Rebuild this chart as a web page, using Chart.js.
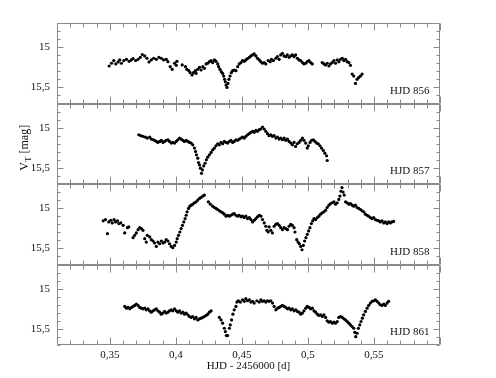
<!DOCTYPE html>
<html>
<head>
<meta charset="utf-8">
<script src="https://cdn.jsdelivr.net/npm/chart.js@4.4.1/dist/chart.umd.min.js"></script>
<style>
html, body { margin: 0; padding: 0; background: #fff; }
</style>
</head>
<body>
<canvas id="lc" width="496" height="378"></canvas>
<script>
// panel labels, top to bottom
const nights = ["HJD 856", "HJD 857", "HJD 858", "HJD 861"];

// HJD - 2456000 [d] and V_T [mag]
const t856 = [0.3495,0.3513,0.3530,0.3545,0.3563,0.3575,0.3588,0.3606,0.3626,0.3646,0.3663,0.3676,0.3696,0.3714,0.3731,0.3746,0.3764,0.3781,0.3797,0.3814,0.3832,0.3852,0.3872,0.3889,0.3907,0.3927,0.3940,0.3957,0.3972,0.3990,0.4003,0.4008,
  0.4048,0.4073,0.4083,0.4098,0.4108,0.4123,0.4133,0.4148,0.4153,0.4166,0.4179,0.4191,0.4204,0.4216,0.4229,0.4241,0.4254,0.4267,0.4279,0.4292,0.4304,0.4317,0.4324,0.4334,0.4344,0.4354,0.4362,0.4369,0.4375,0.4380,0.4387,0.4395,0.4402,0.4410,0.4420,0.4430,0.4442,0.4455,0.4468,0.4480,0.4493,0.4505,0.4518,0.4530,0.4543,0.4556,0.4568,0.4581,0.4593,0.4606,0.4618,0.4631,0.4643,0.4656,0.4668,0.4681,
  0.4699,0.4714,0.4724,0.4739,0.4757,0.4769,0.4782,0.4794,0.4807,0.4819,0.4832,0.4844,0.4857,0.4870,0.4882,0.4895,0.4907,0.4920,0.4932,0.4945,0.4958,0.4970,0.4983,0.4995,0.5008,0.5021,0.5033,
  0.5108,0.5121,0.5134,0.5146,0.5159,0.5171,0.5184,0.5197,0.5209,0.5222,0.5234,0.5247,0.5260,0.5272,0.5285,0.5297,0.5310,0.5322,0.5335,0.5347,0.5360,0.5372,0.5385,0.5398,0.5410];
const v856 = [15.234,15.200,15.167,15.209,15.184,15.159,15.200,15.167,15.151,15.176,15.159,15.142,15.167,15.151,15.126,15.092,15.109,15.138,15.184,15.159,15.138,15.151,15.126,15.138,15.159,15.151,15.180,15.242,15.276,15.200,15.226,15.176,
  15.221,15.242,15.276,15.292,15.317,15.346,15.317,15.292,15.326,15.276,15.250,15.284,15.242,15.263,15.209,15.200,15.180,15.167,15.192,15.159,15.176,15.209,15.242,15.276,15.305,15.326,15.359,15.400,15.430,15.470,15.500,15.450,15.400,15.359,15.317,15.292,15.284,15.292,15.242,15.209,15.192,15.167,15.176,15.159,15.142,15.126,15.109,15.096,15.084,15.109,15.138,15.159,15.180,15.200,15.192,15.209,
  15.167,15.180,15.151,15.167,15.138,15.117,15.151,15.096,15.076,15.109,15.117,15.096,15.126,15.109,15.096,15.117,15.096,15.138,15.159,15.167,15.192,15.209,15.200,15.180,15.167,15.192,15.209,
  15.192,15.209,15.221,15.200,15.234,15.209,15.192,15.167,15.200,15.159,15.180,15.151,15.138,15.167,15.151,15.180,15.192,15.226,15.334,15.359,15.450,15.400,15.376,15.359,15.334];

const t857 = [0.3719,0.3734,0.3751,0.3769,0.3784,0.3802,0.3814,0.3827,0.3839,0.3852,0.3864,0.3877,0.3890,0.3902,0.3915,0.3927,0.3940,0.3952,0.3965,0.3977,0.3990,0.4003,0.4015,0.4028,0.4040,0.4053,0.4065,0.4078,0.4091,0.4103,0.4116,0.4128,0.4141,0.4149,0.4156,0.4166,0.4171,0.4179,0.4186,0.4194,0.4201,0.4211,0.4221,0.4231,0.4241,0.4254,0.4267,0.4279,0.4292,0.4304,0.4317,0.4329,0.4342,0.4355,0.4367,0.4380,0.4392,0.4405,0.4417,0.4430,0.4442,0.4455,0.4468,0.4480,0.4493,0.4505,0.4518,0.4530,0.4543,0.4555,0.4568,0.4581,0.4593,0.4606,0.4618,0.4631,0.4643,0.4656,0.4669,0.4681,0.4694,0.4706,0.4719,0.4731,0.4744,0.4757,0.4769,0.4782,0.4794,0.4807,0.4820,0.4832,0.4845,0.4857,0.4870,0.4882,0.4895,0.4907,0.4920,0.4933,0.4945,0.4958,0.4970,0.4983,0.4995,0.5003,0.5016,0.5028,0.5041,0.5053,0.5066,0.5078,0.5091,0.5103,0.5116,0.5128,0.5141,0.5146];
const v857 = [15.088,15.100,15.108,15.117,15.129,15.117,15.142,15.150,15.158,15.171,15.183,15.171,15.158,15.183,15.171,15.158,15.150,15.171,15.192,15.183,15.192,15.171,15.150,15.129,15.142,15.158,15.171,15.158,15.171,15.183,15.192,15.213,15.254,15.296,15.338,15.379,15.433,15.463,15.504,15.567,15.525,15.475,15.442,15.400,15.367,15.338,15.308,15.275,15.254,15.225,15.200,15.213,15.183,15.200,15.171,15.183,15.192,15.171,15.158,15.183,15.171,15.150,15.158,15.142,15.129,15.117,15.129,15.108,15.088,15.075,15.058,15.046,15.058,15.033,15.046,15.025,15.017,14.992,15.017,15.046,15.075,15.100,15.088,15.108,15.100,15.129,15.117,15.142,15.129,15.150,15.129,15.158,15.142,15.171,15.192,15.213,15.183,15.233,15.200,15.183,15.158,15.129,15.158,15.192,15.254,15.225,15.183,15.158,15.150,15.171,15.192,15.200,15.225,15.254,15.283,15.317,15.350,15.408];

const t858 = [0.3450,0.3467,0.3482,0.3492,0.3507,0.3518,0.3532,0.3543,0.3558,0.3568,0.3583,0.3601,0.3613,0.3633,0.3643,0.3676,0.3688,0.3701,0.3714,0.3726,0.3739,0.3751,0.3764,0.3776,0.3784,0.3802,0.3814,0.3827,0.3839,0.3852,0.3864,0.3877,0.3890,0.3902,0.3915,0.3927,0.3940,0.3952,0.3965,0.3977,0.3990,0.4003,0.4010,0.4020,0.4030,0.4040,0.4050,0.4060,0.4070,0.4078,0.4085,0.4096,0.4106,0.4116,0.4128,0.4141,0.4153,0.4166,0.4179,0.4191,0.4204,0.4216,
  0.4246,0.4261,0.4279,0.4292,0.4304,0.4317,0.4329,0.4342,0.4355,0.4367,0.4380,0.4392,0.4405,0.4417,0.4430,0.4442,0.4455,0.4468,0.4480,0.4493,0.4505,0.4518,0.4530,0.4543,0.4556,0.4568,0.4581,0.4593,0.4606,0.4618,0.4631,0.4644,0.4656,0.4669,0.4681,0.4689,
  0.4699,0.4706,0.4719,0.4731,0.4744,0.4757,0.4769,0.4782,0.4794,0.4807,0.4819,0.4832,0.4845,0.4857,0.4870,0.4882,0.4895,0.4902,0.4915,0.4925,0.4935,0.4945,0.4955,0.4965,0.4975,0.4985,0.4995,0.5005,0.5015,0.5026,0.5036,0.5046,0.5058,0.5071,0.5083,0.5096,0.5108,0.5121,0.5134,0.5146,0.5159,0.5171,0.5184,0.5197,0.5209,0.5222,0.5234,0.5242,0.5250,0.5258,0.5266,0.5275,
  0.5285,0.5297,0.5310,0.5322,0.5335,0.5347,0.5360,0.5372,0.5385,0.5398,0.5410,0.5423,0.5435,0.5448,0.5460,0.5473,0.5486,0.5498,0.5511,0.5523,0.5536,0.5548,0.5561,0.5574,0.5586,0.5599,0.5611,0.5624,0.5636,0.5649];
const v858 = [15.158,15.142,15.317,15.171,15.150,15.183,15.142,15.171,15.158,15.192,15.183,15.213,15.308,15.242,15.233,15.367,15.338,15.308,15.267,15.242,15.254,15.275,15.379,15.421,15.338,15.358,15.392,15.408,15.433,15.475,15.421,15.442,15.408,15.433,15.421,15.392,15.408,15.442,15.475,15.492,15.463,15.421,15.379,15.338,15.296,15.254,15.213,15.171,15.129,15.088,15.046,15.004,14.975,14.963,14.950,14.933,14.921,14.900,14.879,14.867,14.850,14.838,
  14.921,14.950,14.975,14.992,15.004,15.017,15.033,15.046,15.058,15.075,15.100,15.088,15.100,15.088,15.075,15.067,15.088,15.100,15.088,15.108,15.100,15.117,15.100,15.129,15.117,15.142,15.171,15.150,15.129,15.108,15.088,15.100,15.142,15.183,15.225,15.275,
  15.296,15.233,15.275,15.308,15.225,15.200,15.192,15.213,15.242,15.267,15.242,15.254,15.267,15.225,15.200,15.213,15.242,15.296,15.392,15.421,15.442,15.475,15.517,15.463,15.408,15.367,15.325,15.283,15.242,15.192,15.158,15.129,15.142,15.117,15.100,15.075,15.058,15.046,15.025,14.992,14.963,14.942,14.933,14.921,14.950,14.933,14.892,14.850,14.790,14.745,14.800,14.838,
  14.921,14.933,14.950,14.942,14.963,14.975,14.963,14.992,15.004,15.017,15.033,15.046,15.075,15.088,15.100,15.117,15.129,15.117,15.142,15.150,15.158,15.171,15.158,15.183,15.171,15.192,15.171,15.183,15.171,15.165];

const t861 = [0.3613,0.3626,0.3638,0.3651,0.3663,0.3676,0.3688,0.3701,0.3714,0.3726,0.3739,0.3751,0.3764,0.3776,0.3789,0.3801,0.3814,0.3827,0.3839,0.3852,0.3864,0.3877,0.3889,0.3902,0.3915,0.3927,0.3940,0.3952,0.3965,0.3977,0.3990,0.4003,0.4015,0.4028,0.4040,0.4053,0.4065,0.4078,0.4091,0.4103,0.4116,0.4128,0.4141,0.4153,0.4166,0.4179,0.4191,0.4204,0.4216,0.4229,0.4241,0.4254,0.4267,
  0.4329,0.4342,0.4354,0.4367,0.4375,0.4382,0.4392,0.4405,0.4412,0.4422,0.4432,0.4442,0.4455,0.4462,0.4473,0.4488,0.4505,0.4518,0.4530,0.4543,0.4556,0.4568,0.4581,0.4593,
  0.4613,0.4631,0.4644,0.4656,0.4669,0.4681,0.4694,0.4706,0.4719,0.4732,0.4744,0.4757,0.4770,0.4782,0.4794,0.4807,0.4820,0.4832,0.4845,0.4857,0.4870,0.4882,0.4895,0.4908,0.4920,0.4933,0.4945,0.4958,0.4970,0.4983,0.4995,0.5008,0.5020,0.5033,0.5046,0.5058,0.5071,0.5083,0.5096,0.5109,0.5121,0.5134,0.5146,0.5159,0.5171,0.5184,0.5197,0.5209,0.5222,0.5234,0.5247,0.5260,0.5272,0.5285,0.5297,0.5310,0.5322,0.5335,0.5347,0.5355,0.5362,0.5372,0.5382,0.5392,0.5402,0.5412,0.5422,0.5435,0.5448,0.5460,0.5473,0.5486,0.5498,0.5511,0.5523,0.5536,0.5548,0.5561,0.5574,0.5586,0.5599,0.5611];
const v861 = [15.221,15.242,15.233,15.250,15.233,15.221,15.208,15.192,15.208,15.233,15.242,15.250,15.242,15.263,15.250,15.275,15.292,15.275,15.263,15.250,15.275,15.292,15.317,15.304,15.283,15.304,15.292,15.275,15.263,15.275,15.250,15.275,15.292,15.275,15.304,15.292,15.317,15.304,15.325,15.346,15.358,15.346,15.375,15.358,15.388,15.375,15.367,15.358,15.346,15.333,15.317,15.292,15.275,
  15.358,15.388,15.429,15.492,15.533,15.583,15.583,15.492,15.450,15.388,15.317,15.263,15.221,15.167,15.150,15.167,15.138,15.158,15.125,15.150,15.138,15.167,15.158,15.179,
  15.150,15.167,15.138,15.158,15.150,15.167,15.150,15.158,15.150,15.179,15.221,15.263,15.242,15.233,15.221,15.208,15.221,15.233,15.250,15.242,15.263,15.250,15.275,15.263,15.283,15.292,15.317,15.304,15.275,15.242,15.221,15.233,15.250,15.242,15.275,15.292,15.317,15.333,15.325,15.346,15.325,15.358,15.400,15.417,15.408,15.429,15.417,15.429,15.408,15.358,15.346,15.358,15.375,15.388,15.408,15.429,15.450,15.471,15.492,15.542,15.596,15.554,15.492,15.450,15.408,15.367,15.325,15.283,15.242,15.208,15.179,15.158,15.150,15.138,15.158,15.179,15.200,15.208,15.192,15.208,15.179,15.158];

const times = [t856, t857, t858, t861];
const mags = [v856, v857, v858, v861];

const xMin = 0.31, xMax = 0.60, xStep = 0.01;
const yTop = 14.7, yBottom = 15.7, yStep = 0.1;
const yMajor = [15, 15.5];

const serif = '"Liberation Serif", "Times New Roman", serif';
const ink = '#111';
const frameColor = '#8a8a8a';
const panelIds = ['p0', 'p1', 'p2', 'p3'];

function commaNum(v) {
  return String(+v.toFixed(2)).replace('.', ',');
}
function isMajorX(v) {
  return Math.round(v * 100) % 5 === 0;
}
function isMajorY(v) {
  return yMajor.some(m => Math.abs(v - m) < 1e-6);
}

// frame, inward ticks, night labels and y title
const framePlugin = {
  id: 'frame',
  afterDatasetsDraw(chart) {
    const ctx = chart.ctx;
    const xs = chart.scales.x;
    ctx.save();
    ctx.strokeStyle = frameColor;
    ctx.lineWidth = 1;
    const left = Math.round(xs.left) + 0.5, right = Math.round(xs.right) - 0.5;
    panelIds.forEach((id, i) => {
      const ys = chart.scales[id];
      const top = Math.round(ys.top) + 0.5, bot = Math.round(ys.bottom) - 0.5;
      ctx.beginPath();
      ctx.rect(left, top, right - left, bot - top);
      xs.ticks.forEach(tk => {
        const px = Math.round(xs.getPixelForValue(tk.value)) + 0.5;
        const len = isMajorX(tk.value) ? 7 : 4;
        ctx.moveTo(px, top); ctx.lineTo(px, top + len);
        ctx.moveTo(px, bot); ctx.lineTo(px, bot - len);
      });
      ys.ticks.forEach(tk => {
        const py = Math.round(ys.getPixelForValue(tk.value)) + 0.5;
        const len = isMajorY(tk.value) ? 6 : 3;
        ctx.moveTo(left, py); ctx.lineTo(left + len, py);
        ctx.moveTo(right, py); ctx.lineTo(right - len, py);
      });
      ctx.stroke();

      ctx.fillStyle = ink;
      ctx.font = '11px ' + serif;
      ctx.textAlign = 'right';
      ctx.textBaseline = 'alphabetic';
      ctx.fillText(nights[i], right - 10, bot - 10);
    });

    // V_T [mag], rotated, next to second panel
    const p1 = chart.scales.p1;
    ctx.translate(28, (p1.top + p1.bottom) / 2 + 4);
    ctx.rotate(-Math.PI / 2);
    ctx.fillStyle = ink;
    ctx.textAlign = 'left';
    ctx.textBaseline = 'alphabetic';
    const big = '12px ' + serif, small = '9px ' + serif;
    ctx.font = big;
    const wV = ctx.measureText('V').width, wRest = ctx.measureText(' [mag]').width;
    ctx.font = small;
    const wT = ctx.measureText('T').width;
    let x0 = -(wV + wT + wRest) / 2;
    ctx.font = big;
    ctx.fillText('V', x0, 0);
    ctx.font = small;
    ctx.fillText('T', x0 + wV, 3);
    ctx.font = big;
    ctx.fillText(' [mag]', x0 + wV + wT, 0);
    ctx.restore();
  }
};

const scales = {
  x: {
    type: 'linear',
    position: 'bottom',
    min: xMin,
    max: xMax,
    grid: { display: false, drawTicks: false },
    border: { display: false },
    ticks: {
      stepSize: xStep,
      maxTicksLimit: 100,
      autoSkip: false,
      maxRotation: 0,
      minRotation: 0,
      padding: 4,
      color: ink,
      font: { family: serif, size: 11 },
      callback: v => isMajorX(v) && v > 0.32 && v < 0.59 ? commaNum(v) : ''
    },
    title: {
      display: true,
      text: 'HJD - 2456000 [d]',
      color: ink,
      font: { family: serif, size: 11 },
      padding: { top: 0, bottom: 5 }
    },
    afterFit: s => { s.height = 33; }
  }
};
// stacked axes are laid out bottom-up, so add the last night first
panelIds.slice().reverse().forEach(id => {
  scales[id] = {
    type: 'linear',
    position: 'left',
    stack: 'nights',
    stackWeight: 1,
    min: yTop,
    max: yBottom,
    reverse: true,
    grid: { display: false, drawTicks: false },
    border: { display: false },
    ticks: {
      stepSize: yStep,
      maxTicksLimit: 100,
      autoSkip: false,
      padding: 7,
      color: ink,
      font: { family: serif, size: 11 },
      callback: v => isMajorY(v) ? commaNum(v) : ''
    },
    afterFit: s => { s.width = 57; }
  };
});

const datasets = times.map((ts, i) => ({
  label: nights[i],
  data: ts.map((t, j) => ({ x: t, y: mags[i][j] })),
  xAxisID: 'x',
  yAxisID: panelIds[i],
  backgroundColor: '#000',
  borderWidth: 0,
  pointRadius: 1.6,
  pointHoverRadius: 1.6
}));

new Chart(document.getElementById('lc'), {
  type: 'scatter',
  data: { datasets: datasets },
  options: {
    responsive: false,
    animation: false,
    devicePixelRatio: 1,
    layout: { padding: { top: 23, right: 56, left: 0, bottom: 0 } },
    plugins: { legend: { display: false }, tooltip: { enabled: false } },
    scales: scales
  },
  plugins: [framePlugin]
});
</script>
</body>
</html>
